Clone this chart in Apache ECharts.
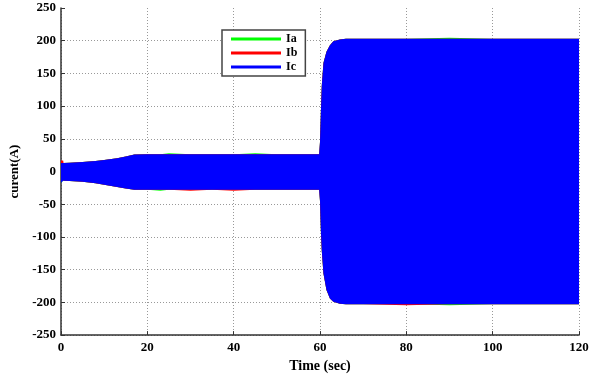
<!DOCTYPE html>
<html>
<head>
<meta charset="utf-8">
<script src="https://cdn.jsdelivr.net/npm/echarts@6/dist/echarts.min.js"></script>
<style>
html,body{margin:0;padding:0;background:#fff;}
#chart{width:597px;height:378px;}
</style>
</head>
<body>
<div id="chart"></div>
<script>
// Envelope of the three phase currents (A)
var time    = [0, 0.5, 0.6, 2, 5, 8, 10, 13, 15, 17, 20, 23, 25, 30, 35, 40, 45, 50, 55, 59.8, 60.0, 60.2, 60.4, 60.8, 61.5, 62.3, 63.1, 64.6, 66, 70, 80, 90, 100, 110, 120];
var icUpper = [13, 13, 13, 13.5, 14.5, 16, 17.5, 20.5, 23, 26, 26.5, 26.5, 26.5, 26.5, 26.5, 26.5, 26.5, 26.5, 26.5, 26.5, 45, 90, 130, 166, 183, 193, 199, 202, 203, 203, 203, 203, 203, 203, 203];
var icLower = [-17, -14, -14, -14.5, -15.5, -18, -20, -23.5, -26, -28, -28, -28, -28, -28, -28, -28, -28, -28, -28, -28, -45, -90, -120, -156, -181, -194, -199, -202, -203, -203, -203, -203, -203, -203, -203];
var ibUpper = [17, 17, 13, 13.5, 14.5, 16, 17.5, 20.5, 23, 26, 26.5, 26.5, 26.5, 26.5, 26.5, 26.5, 26.5, 26.5, 26.5, 26.5, 45, 90, 130, 166, 183, 193, 199, 202, 203, 203, 203, 203, 203, 203, 203];
var ibLower = [-12, -12, -14, -14.5, -15.5, -18, -20, -23.5, -26, -28, -28, -28, -28, -29.5, -28, -29.5, -28, -28, -28, -28, -45, -90, -120, -156, -181, -194, -199, -202, -203, -203, -204.5, -203, -203, -203, -203];
var iaUpper = [13, 13, 13, 13.5, 14.5, 16, 17.5, 20.5, 23, 26, 26.5, 26.5, 28, 26.5, 26.5, 26.5, 28, 26.5, 26.5, 26.5, 45, 90, 130, 166, 183, 193, 199, 202, 203, 203, 203, 204.5, 203, 203, 203];
var iaLower = [-17, -14, -14, -14.5, -15.5, -18, -20, -23.5, -26, -28, -28, -29.5, -28, -28, -28, -28, -28, -28, -28, -28, -45, -90, -120, -156, -181, -194, -199, -202, -203, -203, -203, -204.5, -203, -203, -203];

var xTicks = {min: 0, max: 120, interval: 20};
var yTicks = {min: -250, max: 250, interval: 50};

function bandSeries(name, color, upper, lower) {
  return {
    name: name,
    type: 'custom',
    coordinateSystem: 'cartesian2d',
    clip: true,
    data: [[time[0], upper[0]]],
    itemStyle: {color: color},
    renderItem: function (params, api) {
      var pts = [];
      for (var i = 0; i < time.length; i++) pts.push(api.coord([time[i], upper[i]]));
      for (var j = time.length - 1; j >= 0; j--) pts.push(api.coord([time[j], lower[j]]));
      return {type: 'polygon', shape: {points: pts}, style: {fill: color, stroke: null}};
    }
  };
}

var font = 'Liberation Serif';
var chart = echarts.init(document.getElementById('chart'), null, {renderer: 'canvas'});
chart.setOption({
  animation: false,
  backgroundColor: '#fff',
  grid: {left: 61, right: 18, top: 8, bottom: 39, containLabel: false},
  legend: {
    orient: 'vertical',
    left: 222, top: 30,
    padding: [3, 8, 3, 9],
    borderColor: '#444', borderWidth: 1.5,
    backgroundColor: '#fff',
    icon: 'rect', itemWidth: 50, itemHeight: 3, itemGap: 2,
    textStyle: {fontFamily: font, fontWeight: 'bold', fontSize: 12, lineHeight: 12, color: '#000'},
    data: ['Ia', 'Ib', 'Ic']
  },
  xAxis: {
    type: 'value', min: xTicks.min, max: xTicks.max, interval: xTicks.interval,
    name: 'Time (sec)', nameLocation: 'middle', nameGap: 22,
    nameTextStyle: {fontFamily: font, fontWeight: 'bold', fontSize: 14, color: '#000'},
    axisLine: {show: true, onZero: false, lineStyle: {color: '#333', width: 1.5}},
    axisTick: {show: true, inside: true, length: 4, lineStyle: {color: '#333'}},
    axisLabel: {fontFamily: font, fontWeight: 'bold', fontSize: 13, color: '#000', margin: 6},
    splitLine: {show: true, lineStyle: {color: '#999', type: [1, 2], width: 1}}
  },
  yAxis: {
    type: 'value', min: yTicks.min, max: yTicks.max, interval: yTicks.interval,
    name: 'curent(A)', nameLocation: 'middle', nameGap: 32, nameRotate: 90,
    nameTextStyle: {fontFamily: font, fontWeight: 'bold', fontSize: 13, color: '#000'},
    axisLine: {show: true, onZero: false, lineStyle: {color: '#333', width: 1.5}},
    axisTick: {show: true, inside: true, length: 4, lineStyle: {color: '#333'}},
    axisLabel: {fontFamily: font, fontWeight: 'bold', fontSize: 13, color: '#000', margin: 5},
    splitLine: {show: true, showMaxLine: false, lineStyle: {color: '#999', type: [1, 2], width: 1}}
  },
  series: [
    bandSeries('Ia', '#00ff00', iaUpper, iaLower),
    bandSeries('Ib', '#ff0000', ibUpper, ibLower),
    bandSeries('Ic', '#0000ff', icUpper, icLower)
  ]
});
</script>
</body>
</html>
